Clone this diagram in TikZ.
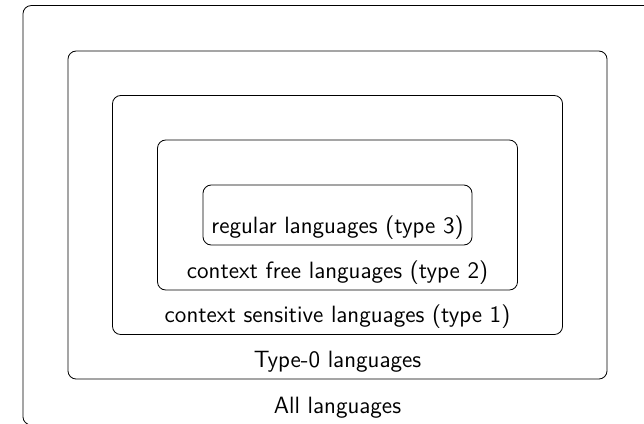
\documentclass[tikz,border=0pt]{standalone}
\usepackage{tikz}
\usetikzlibrary{positioning}

\begin{document}
\begin{tikzpicture}[x=0.017cm, y=-0.017cm]
    \tikzset{
        langbox/.style={
            draw=black,
            thin,
            rounded corners=4pt,
            inner sep=0pt,
        },
        langlabel/.style={
            font=\fontsize{11.4pt}{13.5pt}\selectfont\sffamily,
            inner sep=0pt,
        },
    }

    \useasboundingbox (0,0) rectangle (644,423);
    \clip (0,0) rectangle (644,423);

    % nested classes, all centred on one point
    \coordinate (c) at (337.5,215);
    \node[langbox, minimum width=10.829cm, minimum height=7.13cm] (all) at (341.5,215.25) {};
    \node[langbox, minimum width=9.163cm, minimum height=5.576cm] (type0) at (c) {};
    \node[langbox, minimum width=7.65cm, minimum height=4.063cm] (cs) at (c) {};
    \node[langbox, minimum width=6.12cm, minimum height=2.55cm] (cf) at (c) {};
    \node[langbox, minimum width=4.573cm, minimum height=1.02cm] (reg) at (c) {};

    \node[langlabel, above=6pt of reg.south, anchor=base] (reg-lbl) {regular languages (type 3)};
    \node[langlabel, above=6pt of cf.south, anchor=base] (cf-lbl) {context free languages (type 2)};
    \node[langlabel, above=6pt of cs.south, anchor=base] (cs-lbl) {context sensitive languages (type 1)};
    \node[langlabel, above=6pt of type0.south, anchor=base] (type0-lbl) {Type-0 languages};
    \node[langlabel, above=6pt of all.south-|c, anchor=base] (all-lbl) {All languages};

\end{tikzpicture}
\end{document}
